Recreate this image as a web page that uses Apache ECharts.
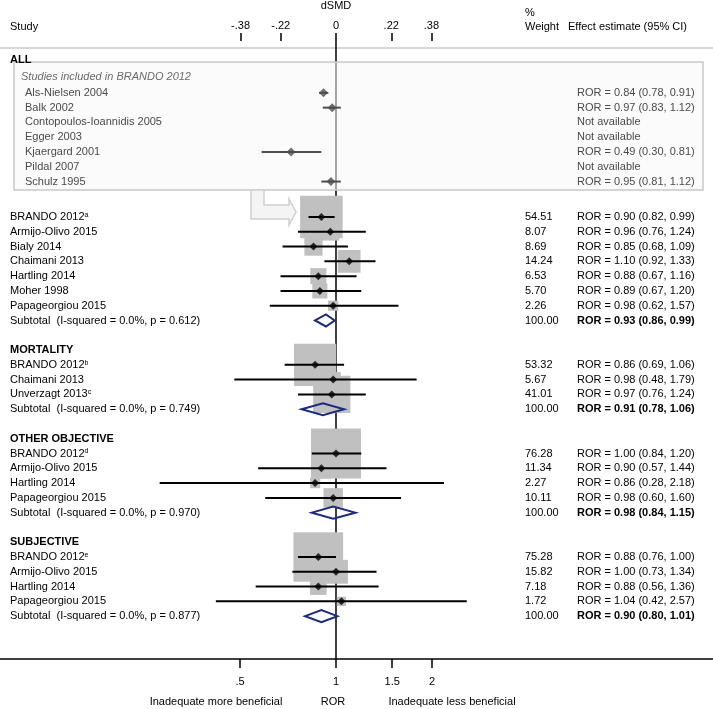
<!DOCTYPE html>
<html>
<head>
<meta charset="utf-8">
<style>
  html, body { margin: 0; padding: 0; background: #fff; }
  #chart { width: 713px; height: 709px; }
</style>
<script src="https://cdn.jsdelivr.net/npm/echarts@6/dist/echarts.min.js"></script>
</head>
<body>
<div id="chart"></div>
<script>
// studies included in BRANDO 2012 (grey box at the top)
var boxStudies = ['Als-Nielsen 2004', 'Balk 2002', 'Contopoulos-Ioannidis 2005', 'Egger 2003', 'Kjaergard 2001', 'Pildal 2007', 'Schulz 1995'];
var boxRor = [0.84, 0.97, null, null, 0.49, null, 0.95];
var boxLow = [0.78, 0.83, null, null, 0.30, null, 0.81];
var boxHigh = [0.91, 1.12, null, null, 0.81, null, 1.12];

// meta-epidemiological studies, by outcome group
var groupTitles = ['', 'MORTALITY', 'OTHER OBJECTIVE', 'SUBJECTIVE'];
var groupStudies = [
  ['BRANDO 2012', 'Armijo-Olivo 2015', 'Bialy 2014', 'Chaimani 2013', 'Hartling 2014', 'Moher 1998', 'Papageorgiou 2015'],
  ['BRANDO 2012', 'Chaimani 2013', 'Unverzagt 2013'],
  ['BRANDO 2012', 'Armijo-Olivo 2015', 'Hartling 2014', 'Papageorgiou 2015'],
  ['BRANDO 2012', 'Armijo-Olivo 2015', 'Hartling 2014', 'Papageorgiou 2015']
];
var groupNotes = [['a', '', '', '', '', '', ''], ['b', '', 'c'], ['d', '', '', ''], ['e', '', '', '']];
var groupWeight = [
  [54.51, 8.07, 8.69, 14.24, 6.53, 5.70, 2.26],
  [53.32, 5.67, 41.01],
  [76.28, 11.34, 2.27, 10.11],
  [75.28, 15.82, 7.18, 1.72]
];
var groupRor = [
  [0.90, 0.96, 0.85, 1.10, 0.88, 0.89, 0.98],
  [0.86, 0.98, 0.97],
  [1.00, 0.90, 0.86, 0.98],
  [0.88, 1.00, 0.88, 1.04]
];
var groupLow = [
  [0.82, 0.76, 0.68, 0.92, 0.67, 0.67, 0.62],
  [0.69, 0.48, 0.76],
  [0.84, 0.57, 0.28, 0.60],
  [0.76, 0.73, 0.56, 0.42]
];
var groupHigh = [
  [0.99, 1.24, 1.09, 1.33, 1.16, 1.20, 1.57],
  [1.06, 1.79, 1.24],
  [1.20, 1.44, 2.18, 1.60],
  [1.00, 1.34, 1.36, 2.57]
];
var subRor = [0.93, 0.91, 0.98, 0.90];
var subLow = [0.86, 0.78, 0.84, 0.80];
var subHigh = [0.99, 1.06, 1.15, 1.01];
var subI2 = [0.0, 0.0, 0.0, 0.0];
var subP = [0.612, 0.749, 0.970, 0.877];

// axis ticks
var rorTicks = [0.5, 1, 1.5, 2];
var dsmdTicks = [-0.38, -0.22, 0, 0.22, 0.38];

var FONT = '"Liberation Sans", Arial, sans-serif';
var K = Math.sqrt(3) / Math.PI;   // ln(ROR) -> dSMD
var RMIN = 0.0884, RMAX = 15.21;  // bottom log axis extent
var AMIN = 0.003877, AMAX = 545;  // axis used for the BRANDO box rows

function fmt(v) { return v.toFixed(2); }
function rorText(e, l, h) { return 'ROR = ' + fmt(e) + ' (' + fmt(l) + ', ' + fmt(h) + ')'; }
function shortNum(v) { return String(v).replace(/^0\./, '.').replace(/^-0\./, '-.'); }

// ---- build rows ----
var texts = [];
var studyPts = [];     // [ror, row, low, high, weight]
var subPts = [];       // [ror, row, low, high]
var boxPts = [];       // [ror, row, low, high]

texts.push({ x: 10, row: -10.6, text: 'ALL', bold: true });
texts.push({ x: 21, row: -9.5, text: 'Studies included in BRANDO 2012', italic: true, color: '#6a6a6a' });
boxStudies.forEach(function (s, i) {
  var row = -8.4 + i;
  texts.push({ x: 25, row: row, text: s, color: '#4a4a4a' });
  texts.push({ x: 577, row: row, text: boxRor[i] == null ? 'Not available' : rorText(boxRor[i], boxLow[i], boxHigh[i]), color: '#4a4a4a' });
  if (boxRor[i] != null) boxPts.push([boxRor[i], row, boxLow[i], boxHigh[i]]);
});

var r = 0;
groupTitles.forEach(function (title, g) {
  if (title) { texts.push({ x: 10, row: r, text: title, bold: true }); r++; }
  groupStudies[g].forEach(function (s, i) {
    var note = groupNotes[g][i];
    texts.push({ x: 10, row: r, text: s + (note ? '{sup|' + note + '}' : '') });
    texts.push({ x: 525, row: r, text: fmt(groupWeight[g][i]) });
    texts.push({ x: 577, row: r, text: rorText(groupRor[g][i], groupLow[g][i], groupHigh[g][i]) });
    studyPts.push([groupRor[g][i], r, groupLow[g][i], groupHigh[g][i], groupWeight[g][i]]);
    r++;
  });
  texts.push({ x: 10, row: r, text: 'Subtotal  (I-squared = ' + subI2[g].toFixed(1) + '%, p = ' + subP[g].toFixed(3) + ')' });
  texts.push({ x: 525, row: r, text: '100.00' });
  texts.push({ x: 577, row: r, text: rorText(subRor[g], subLow[g], subHigh[g]), bold: true });
  subPts.push([subRor[g], r, subLow[g], subHigh[g]]);
  r += 2;
});

var yAxisBase = { type: 'value', inverse: true, min: -11.908, max: 29.90, show: false };

var chart = echarts.init(document.getElementById('chart'), null, { renderer: 'canvas' });
chart.setOption({
  animation: false,
  backgroundColor: '#fff',
  grid: [
    { left: 0, right: 0, top: 41, bottom: 50 },
    { left: 0, right: 0, top: 41, bottom: 50 }
  ],
  xAxis: [
    {
      type: 'log', logBase: Math.E, gridIndex: 0, position: 'bottom', min: RMIN, max: RMAX,
      axisLine: { show: true, onZero: false, lineStyle: { color: '#000', width: 1.5 } },
      axisTick: { show: true, customValues: rorTicks, length: 9, lineStyle: { color: '#000', width: 1.5 } },
      axisLabel: { show: true, customValues: rorTicks, margin: 17, color: '#000', fontSize: 11, fontFamily: FONT,
        formatter: function (v) { return shortNum(+(+v).toFixed(2)); } },
      splitLine: { show: false }, minorTick: { show: false }
    },
    {
      type: 'value', gridIndex: 0, position: 'top', min: Math.log(RMIN) * K, max: Math.log(RMAX) * K,
      axisLine: { show: false, onZero: false },
      axisTick: { show: true, customValues: dsmdTicks, length: 8, lineStyle: { color: '#000', width: 1.5 } },
      axisLabel: { show: true, customValues: dsmdTicks, margin: 10, color: '#000', fontSize: 11, fontFamily: FONT,
        formatter: function (v) { return shortNum(+(+v).toFixed(2)); } },
      splitLine: { show: false }
    },
    { type: 'log', logBase: Math.E, gridIndex: 1, min: AMIN, max: AMAX, show: false, axisLine: { onZero: false } }
  ],
  yAxis: [
    Object.assign({ gridIndex: 0 }, yAxisBase),
    Object.assign({ gridIndex: 1 }, yAxisBase)
  ],
  graphic: [
    { type: 'line', z: 1, shape: { x1: 0, y1: 48, x2: 713, y2: 48 }, style: { stroke: '#c8c8c8', lineWidth: 1.5 } },
    { type: 'rect', z: 3, shape: { x: 14, y: 62, width: 689, height: 128 },
      style: { fill: 'rgba(248,248,248,0.55)', stroke: '#c9c9c9', lineWidth: 1.5 } },
    { type: 'polygon', z: 3,
      shape: { points: [[251, 190], [251, 219], [289, 219], [289, 225], [296, 212], [289, 199], [289, 205], [264, 205], [264, 190]] },
      style: { fill: '#f4f4f4', stroke: '#cfcfcf', lineWidth: 1.5 } },
    { type: 'text', x: 336, y: 6, style: { text: 'dSMD', fontSize: 11, fontFamily: FONT, fill: '#000', align: 'center', verticalAlign: 'middle' } },
    { type: 'text', x: 10, y: 27, style: { text: 'Study', fontSize: 11, fontFamily: FONT, fill: '#000', align: 'left', verticalAlign: 'middle' } },
    { type: 'text', x: 525, y: 13, style: { text: '%', fontSize: 11, fontFamily: FONT, fill: '#000', align: 'left', verticalAlign: 'middle' } },
    { type: 'text', x: 525, y: 27, style: { text: 'Weight', fontSize: 11, fontFamily: FONT, fill: '#000', align: 'left', verticalAlign: 'middle' } },
    { type: 'text', x: 568, y: 27, style: { text: 'Effect estimate (95% CI)', fontSize: 11, fontFamily: FONT, fill: '#000', align: 'left', verticalAlign: 'middle' } },
    { type: 'text', x: 216, y: 702, style: { text: 'Inadequate more beneficial', fontSize: 11, fontFamily: FONT, fill: '#000', align: 'center', verticalAlign: 'middle' } },
    { type: 'text', x: 333, y: 702, style: { text: 'ROR', fontSize: 11, fontFamily: FONT, fill: '#000', align: 'center', verticalAlign: 'middle' } },
    { type: 'text', x: 452, y: 702, style: { text: 'Inadequate less beneficial', fontSize: 11, fontFamily: FONT, fill: '#000', align: 'center', verticalAlign: 'middle' } }
  ],
  series: [
    // reference line at ROR = 1
    {
      type: 'custom', xAxisIndex: 0, yAxisIndex: 0, z: 1, silent: true, data: [[1]],
      renderItem: function (params, api) {
        var cs = params.coordSys;
        var x = api.coord([api.value(0), 0])[0];
        return { type: 'line', shape: { x1: x, y1: cs.y, x2: x, y2: cs.y + cs.height },
          style: { stroke: '#000', lineWidth: 1.5 } };
      }
    },
    // weight boxes
    {
      type: 'custom', xAxisIndex: 0, yAxisIndex: 0, z: 4, silent: true, data: studyPts,
      renderItem: function (params, api) {
        var p = api.coord([api.value(0), api.value(1)]);
        var s = 2 + 5.5 * Math.sqrt(api.value(4));
        return { type: 'rect', shape: { x: p[0] - s / 2, y: p[1] - s / 2, width: s, height: s },
          style: { fill: '#c0c0c0' } };
      }
    },
    // confidence intervals
    {
      type: 'custom', xAxisIndex: 0, yAxisIndex: 0, z: 5, silent: true, data: studyPts,
      renderItem: function (params, api) {
        var a = api.coord([api.value(2), api.value(1)]);
        var b = api.coord([api.value(3), api.value(1)]);
        return { type: 'line', shape: { x1: a[0], y1: a[1], x2: b[0], y2: b[1] },
          style: { stroke: '#000', lineWidth: 2 } };
      }
    },
    {
      type: 'scatter', xAxisIndex: 0, yAxisIndex: 0, z: 6, silent: true, data: studyPts,
      symbol: 'diamond', symbolSize: 8, itemStyle: { color: '#000' }
    },
    // subtotal diamonds
    {
      type: 'custom', xAxisIndex: 0, yAxisIndex: 0, z: 6, silent: true, data: subPts,
      renderItem: function (params, api) {
        var c = api.coord([api.value(0), api.value(1)]);
        var l = api.coord([api.value(2), api.value(1)]);
        var h = api.coord([api.value(3), api.value(1)]);
        return { type: 'polygon', shape: { points: [[l[0], c[1]], [c[0], c[1] - 6], [h[0], c[1]], [c[0], c[1] + 6]] },
          style: { fill: 'none', stroke: '#1b2b80', lineWidth: 2 } };
      }
    },
    // BRANDO 2012 component studies
    {
      type: 'custom', xAxisIndex: 2, yAxisIndex: 1, z: 5, silent: true, data: boxPts,
      renderItem: function (params, api) {
        var a = api.coord([api.value(2), api.value(1)]);
        var b = api.coord([api.value(3), api.value(1)]);
        return { type: 'line', shape: { x1: a[0], y1: a[1], x2: b[0], y2: b[1] },
          style: { stroke: '#4d4d4d', lineWidth: 2 } };
      }
    },
    {
      type: 'scatter', xAxisIndex: 2, yAxisIndex: 1, z: 6, silent: true, data: boxPts,
      symbol: 'diamond', symbolSize: 9, itemStyle: { color: '#4d4d4d' }
    },
    // text columns
    {
      type: 'custom', xAxisIndex: 0, yAxisIndex: 0, z: 7, silent: true,
      data: texts.map(function (t) { return [1, t.row]; }),
      renderItem: function (params, api) {
        var t = texts[params.dataIndex];
        var y = api.coord([1, api.value(1)])[1];
        var col = t.color || '#000';
        return {
          type: 'text', x: t.x, y: y,
          style: {
            text: t.text, fontSize: 11, fontFamily: FONT,
            fontWeight: t.bold ? 'bold' : 'normal', fontStyle: t.italic ? 'italic' : 'normal',
            fill: col, align: 'left', verticalAlign: 'middle',
            rich: { sup: { fontSize: 7, fontFamily: FONT, fill: col, verticalAlign: 'top' } }
          }
        };
      }
    }
  ]
});
</script>
</body>
</html>
